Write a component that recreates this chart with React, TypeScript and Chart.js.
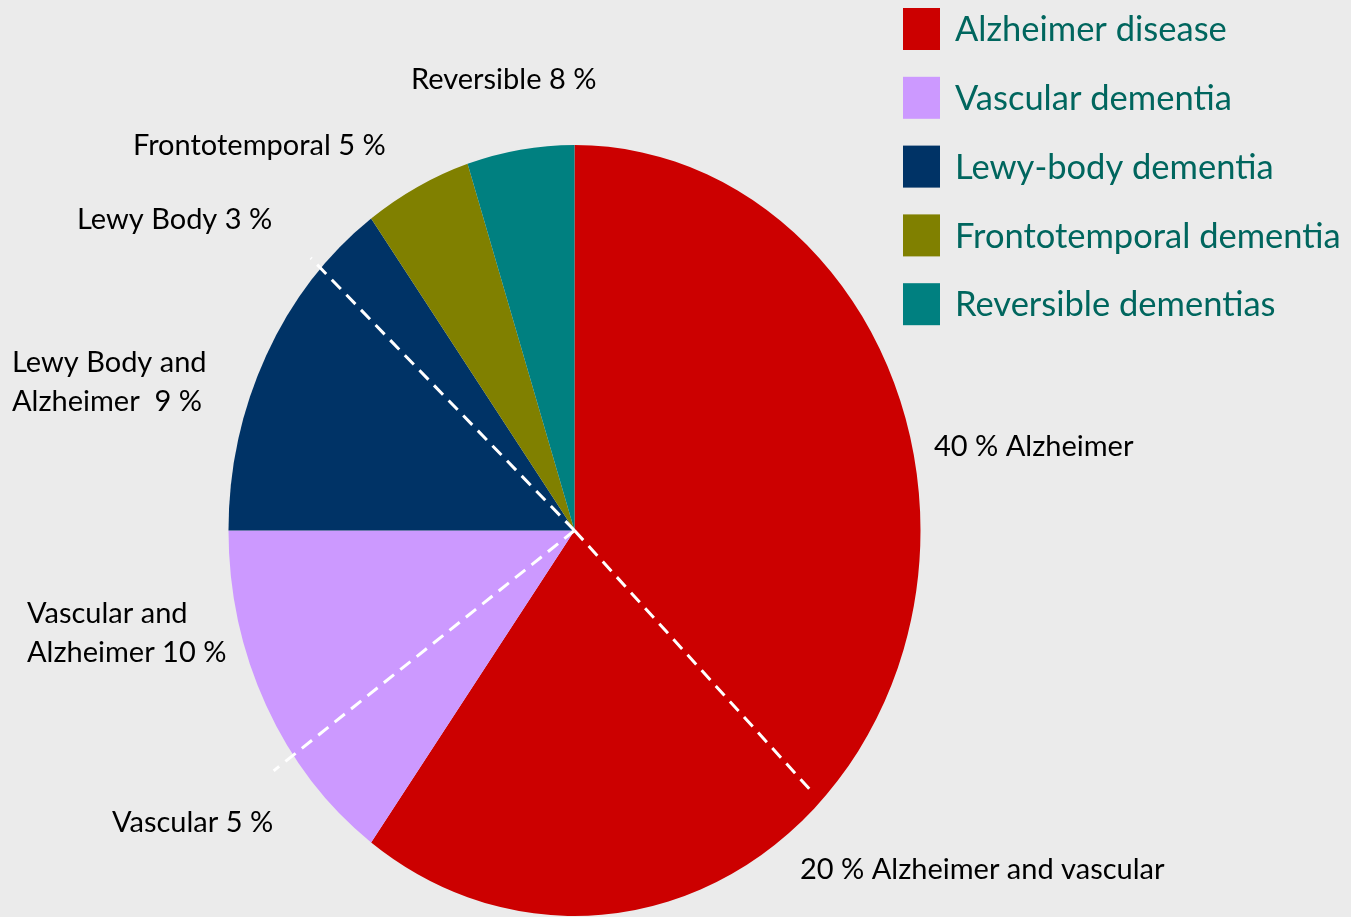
import React, { useEffect, useRef } from "react";
import { Chart, registerables } from "chart.js";

Chart.register(...registerables);

// ---- Data ----
const categories = [
  "Alzheimer disease",
  "Vascular dementia",
  "Lewy-body dementia",
  "Frontotemporal dementia",
  "Reversible dementias",
];
const sliceValues = [60, 15, 15, 5, 5];
const sliceColors = ["#CC0000", "#CC99FF", "#003366", "#808000", "#008080"];

// dashed sub-division lines, as cumulative share of the pie (percent)
const splitPoints = [37.4, 65.1, 86.9];

// annotation texts
const annotationTexts = [
  ["40 % Alzheimer"],
  ["20 % Alzheimer and vascular"],
  ["Vascular 5 %"],
  ["Vascular and", "Alzheimer 10 %"],
  ["Lewy Body and", "Alzheimer  9 %"],
  ["Lewy Body 3 %"],
  ["Frontotemporal 5 %"],
  ["Reversible 8 %"],
];

// ---- Layout (positions / styles) ----
const W = 1351;
const H = 917;
const BG = "#EBEBEB";
const LABEL_FONT = "29px Lato";
const LEGEND_FONT = "34.5px Lato";
const LEGEND_COLOR = "#00665E";
const Y_STRETCH = 385.5 / 346; // the pie is drawn as a vertically stretched ellipse
const splitLengths = [0.96, 1.07, 1.04];
const annotationPos = [
  { x: 934, y: 456 },
  { x: 800, y: 879 },
  { x: 112, y: 832 },
  { x: 27, y: 623 },
  { x: 12, y: 372 },
  { x: 77, y: 229 },
  { x: 133, y: 155 },
  { x: 411, y: 89 },
];
const LINE_H = 39;
const legendLayout = { x: 903, y: 8, boxW: 37, boxH: 42, step: 68.8, textX: 955 };

const overlayPlugin = {
  id: "overlay",
  beforeDraw(chart: any) {
    const ctx = chart.ctx;
    ctx.save();
    ctx.fillStyle = BG;
    ctx.fillRect(0, 0, chart.width, chart.height);
    ctx.restore();
  },
  beforeDatasetsDraw(chart: any) {
    const ctx = chart.ctx;
    const arc = chart.getDatasetMeta(0).data[0];
    ctx.save();
    if (arc) {
      ctx.translate(arc.x, arc.y);
      ctx.scale(1, Y_STRETCH);
      ctx.translate(-arc.x, -arc.y);
    }
  },
  afterDatasetsDraw(chart: any) {
    const ctx = chart.ctx;
    ctx.restore();
    const arc = chart.getDatasetMeta(0).data[0];
    if (!arc) return;
    const cx = arc.x;
    const cy = arc.y;
    const r = arc.outerRadius;
    const total = sliceValues.reduce((a, b) => a + b, 0);
    ctx.save();
    ctx.strokeStyle = "#FFFFFF";
    ctx.lineWidth = 3;
    ctx.setLineDash([13, 8]);
    splitPoints.forEach((p, i) => {
      const a = -Math.PI / 2 + (p / total) * Math.PI * 2;
      const L = r * splitLengths[i];
      ctx.beginPath();
      ctx.moveTo(cx, cy);
      ctx.lineTo(cx + Math.cos(a) * L, cy + Math.sin(a) * L * Y_STRETCH);
      ctx.stroke();
    });
    ctx.restore();

    // annotations
    ctx.save();
    ctx.fillStyle = "#000000";
    ctx.font = LABEL_FONT;
    ctx.textBaseline = "alphabetic";
    ctx.textAlign = "left";
    annotationTexts.forEach((lines, i) => {
      const pos = annotationPos[i];
      lines.forEach((t, j) => ctx.fillText(t, pos.x, pos.y + j * LINE_H));
    });
    ctx.restore();

    // legend
    ctx.save();
    ctx.font = LEGEND_FONT;
    ctx.textBaseline = "middle";
    categories.forEach((c, i) => {
      const y = legendLayout.y + i * legendLayout.step;
      ctx.fillStyle = sliceColors[i];
      ctx.fillRect(legendLayout.x, y, legendLayout.boxW, legendLayout.boxH);
      ctx.fillStyle = LEGEND_COLOR;
      ctx.fillText(c, legendLayout.textX, y + legendLayout.boxH / 2 + 1);
    });
    ctx.restore();
  },
};

export default function App() {
  const ref = useRef<HTMLCanvasElement | null>(null);
  useEffect(() => {
    if (!ref.current) return;
    const chart = new Chart(ref.current, {
      type: "pie",
      data: {
        labels: categories,
        datasets: [
          {
            data: sliceValues,
            backgroundColor: sliceColors,
            borderWidth: 0,
            hoverOffset: 0,
            offset: 0,
            clip: false,
          } as any,
        ],
      },
      options: {
        responsive: false,
        animation: false,
        events: [],
        layout: { padding: { top: 184.5, bottom: 40.5, left: 228.5, right: 430.5 } },
        plugins: {
          legend: { display: false },
          tooltip: { enabled: false },
          title: { display: false },
        },
      },
      plugins: [overlayPlugin],
    });
    return () => chart.destroy();
  }, []);
  return (
    <div style={{ position: "fixed", left: 0, top: 0, width: W, height: H, background: BG }}>
      <canvas ref={ref} width={W} height={H} style={{ display: "block" }} />
    </div>
  );
}
